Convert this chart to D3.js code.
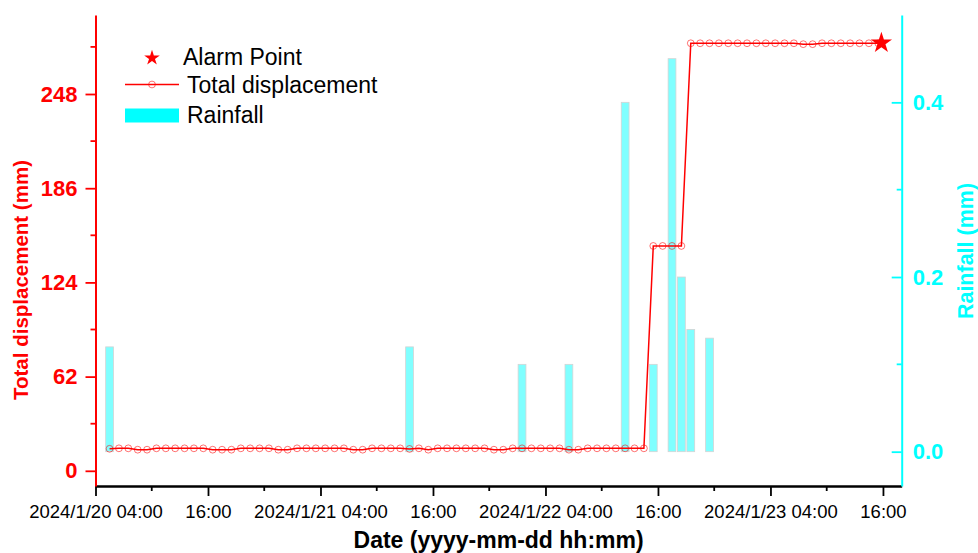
<!DOCTYPE html>
<html>
<head>
<meta charset="utf-8">
<script src="https://cdn.jsdelivr.net/npm/d3@7"></script>
<style>
  body { margin: 0; background: #fff; }
  svg { display: block; }
  text { font-family: "Liberation Sans", Arial, sans-serif; }
</style>
</head>
<body>
<svg id="chart" width="978" height="553"></svg>
<script>
// ---- data ----
// Hourly total displacement (mm), first reading at 2024-01-20 05:30
const firstReading = "2024-01-20 05:30";
const displacement = [
  14.5, 14.8, 14.8, 13.9, 13.9, 14.8, 14.8, 14.8, 14.8, 14.8,
  14.8, 13.9, 13.9, 13.9, 14.8, 14.8, 14.8, 14.8, 13.9, 13.9,
  14.8, 14.8, 14.8, 14.8, 14.8, 14.8, 13.9, 13.9, 14.8, 14.8,
  14.8, 14.8, 14.4, 14.8, 13.9, 14.8, 14.8, 14.8, 14.8, 14.8,
  14.8, 13.9, 13.9, 14.8, 14.8, 14.8, 14.8, 14.8, 14.8, 13.9,
  13.9, 14.8, 14.8, 14.8, 14.8, 14.8, 14.8, 14.8,
  148.0, 148.0, 148.0, 148.0,
  281.4, 281.4, 281.4, 281.4, 281.4, 281.4, 281.4, 281.4, 281.4, 281.4,
  281.4, 281.4, 280.8, 280.8, 281.4, 281.4, 281.4, 281.4, 281.4, 281.4,
  281.4
];

// Rainfall (mm)
const rainTimes = [
  "2024-01-20 05:30", "2024-01-21 13:30", "2024-01-22 01:30", "2024-01-22 06:30",
  "2024-01-22 12:30", "2024-01-22 15:30", "2024-01-22 17:30", "2024-01-22 18:30",
  "2024-01-22 19:30", "2024-01-22 21:30"
];
const rainfall = [0.12, 0.12, 0.1, 0.1, 0.4, 0.1, 0.45, 0.2, 0.14, 0.13];

// Alarm point
const alarmTime = "2024-01-23 15:50";
const alarmValue = 281.6;

// Axis ticks
const xRange = ["2024-01-20 04:00", "2024-01-23 18:00"];
const xTickTimes = [
  "2024-01-20 04:00", "2024-01-20 16:00", "2024-01-21 04:00", "2024-01-21 16:00",
  "2024-01-22 04:00", "2024-01-22 16:00", "2024-01-23 04:00", "2024-01-23 16:00"
];
const xTickLabels = [
  "2024/1/20 04:00", "16:00", "2024/1/21 04:00", "16:00",
  "2024/1/22 04:00", "16:00", "2024/1/23 04:00", "16:00"
];
const dispTicks = [0, 62, 124, 186, 248];
const dispMinorTicks = [31, 93, 155, 217, 279];
const rainTicks = [0.0, 0.2, 0.4];
const rainMinorTicks = [0.1, 0.3];

// ---- layout ----
const svg = d3.select("#chart");
const plot = { left: 95.5, right: 901.7, top: 15, bottom: 486 };
const RED = "#FF0000", CYAN = "#00FFFF";

const parse = d3.timeParse("%Y-%m-%d %H:%M");
const t0 = parse(firstReading);
const dispData = displacement.map((v, i) => ({ t: d3.timeHour.offset(t0, i), v }));
const rainData = rainfall.map((v, i) => ({ t: parse(rainTimes[i]), v }));

const x = d3.scaleTime().domain(xRange.map(parse)).range([plot.left, plot.right]);
const yDisp = d3.scaleLinear().domain([-10, 300]).range([plot.bottom, plot.top]);
const yRain = d3.scaleLinear().domain([-0.0393, 0.5]).range([plot.bottom, plot.top]);

// ---- rainfall bars ----
const halfBar = 25; // minutes either side of the reading
svg.append("g").selectAll("rect").data(rainData).join("rect")
  .attr("x", d => x(d3.timeMinute.offset(d.t, -halfBar)))
  .attr("width", d => x(d3.timeMinute.offset(d.t, halfBar)) - x(d3.timeMinute.offset(d.t, -halfBar)))
  .attr("y", d => yRain(d.v))
  .attr("height", d => yRain(0) - yRain(d.v))
  .attr("fill", "#80FFFF")
  .attr("stroke", "#D4D4D4")
  .attr("stroke-width", 0.8);

// ---- displacement line ----
const line = d3.line().x(d => x(d.t)).y(d => yDisp(d.v));
svg.append("path").datum(dispData)
  .attr("d", line)
  .attr("fill", "none")
  .attr("stroke", RED)
  .attr("stroke-width", 1.5);

svg.append("g").selectAll("circle").data(dispData).join("circle")
  .attr("cx", d => x(d.t))
  .attr("cy", d => yDisp(d.v))
  .attr("r", 3.4)
  .attr("fill", "none")
  .attr("stroke", "rgba(255,0,0,0.55)")
  .attr("stroke-width", 1);

// ---- alarm star ----
svg.append("path")
  .attr("d", d3.symbol(d3.symbolStar, 140)())
  .attr("transform", `translate(${x(parse(alarmTime))},${yDisp(alarmValue)})`)
  .attr("fill", RED);

// ---- axes ----
// bottom
const xAxis = d3.axisBottom(x)
  .tickValues(xTickTimes.map(parse))
  .tickFormat((d, i) => xTickLabels[i])
  .tickSizeInner(10).tickSizeOuter(0).tickPadding(9);
const gx = svg.append("g").attr("transform", `translate(0,${plot.bottom})`).call(xAxis);
gx.select(".domain").attr("stroke", "#000").attr("stroke-width", 2.6);
gx.selectAll(".tick line").attr("stroke", "#000").attr("stroke-width", 1.8);
gx.selectAll(".tick text").attr("fill", "#000").style("font-size", "18.5px");
const majorSet = new Set(xTickTimes);
const xMinor = d3.timeHour.range(parse(xRange[0]), parse(xRange[1]), 6)
  .filter(d => !majorSet.has(d3.timeFormat("%Y-%m-%d %H:%M")(d)));
gx.append("g").selectAll("line").data(xMinor).join("line")
  .attr("x1", d => x(d)).attr("x2", d => x(d))
  .attr("y1", 0).attr("y2", 5)
  .attr("stroke", "#000").attr("stroke-width", 1.8);

// left
const yAxisL = d3.axisLeft(yDisp).tickValues(dispTicks)
  .tickSizeInner(10).tickSizeOuter(0).tickPadding(8);
const gyl = svg.append("g").attr("transform", `translate(${plot.left},0)`).call(yAxisL);
gyl.select(".domain").attr("stroke", RED).attr("stroke-width", 2);
gyl.selectAll(".tick line").attr("stroke", RED).attr("stroke-width", 1.8);
gyl.selectAll(".tick text").attr("fill", RED)
  .style("font-size", "22px").style("font-weight", "bold");
gyl.append("g").selectAll("line").data(dispMinorTicks).join("line")
  .attr("x1", -5).attr("x2", 0)
  .attr("y1", d => yDisp(d)).attr("y2", d => yDisp(d))
  .attr("stroke", RED).attr("stroke-width", 1.8);

// right
const yAxisR = d3.axisRight(yRain).tickValues(rainTicks).tickFormat(d3.format(".1f"))
  .tickSizeInner(-10).tickSizeOuter(0).tickPadding(11);
const gyr = svg.append("g").attr("transform", `translate(${plot.right},0)`).call(yAxisR);
gyr.select(".domain").attr("stroke", CYAN).attr("stroke-width", 2);
gyr.selectAll(".tick line").attr("stroke", CYAN).attr("stroke-width", 1.8);
gyr.selectAll(".tick text").attr("fill", CYAN)
  .style("font-size", "22px").style("font-weight", "bold");
gyr.append("g").selectAll("line").data(rainMinorTicks).join("line")
  .attr("x1", -5).attr("x2", 0)
  .attr("y1", d => yRain(d)).attr("y2", d => yRain(d))
  .attr("stroke", CYAN).attr("stroke-width", 1.8);

// ---- axis titles ----
svg.append("text")
  .attr("transform", `translate(28,280) rotate(-90)`)
  .attr("text-anchor", "middle")
  .attr("fill", RED)
  .style("font-size", "20.5px").style("font-weight", "bold")
  .text("Total displacement (mm)");

svg.append("text")
  .attr("transform", `translate(973,251) rotate(-90)`)
  .attr("text-anchor", "middle")
  .attr("fill", CYAN)
  .style("font-size", "21.5px").style("font-weight", "bold")
  .text("Rainfall (mm)");

svg.append("text")
  .attr("x", (plot.left + plot.right) / 2)
  .attr("y", 548)
  .attr("text-anchor", "middle")
  .attr("fill", "#000")
  .style("font-size", "23px").style("font-weight", "bold")
  .text("Date (yyyy-mm-dd hh:mm)");

// ---- legend ----
const legend = svg.append("g");
legend.append("path")
  .attr("d", d3.symbol(d3.symbolStar, 75)())
  .attr("transform", "translate(152,58)")
  .attr("fill", RED);
legend.append("text").attr("x", 183).attr("y", 65)
  .style("font-size", "23px").attr("fill", "#000").text("Alarm Point");

legend.append("line").attr("x1", 125).attr("x2", 179).attr("y1", 84.5).attr("y2", 84.5)
  .attr("stroke", RED).attr("stroke-width", 1.5);
legend.append("circle").attr("cx", 152).attr("cy", 84.5).attr("r", 3.4)
  .attr("fill", "none").attr("stroke", "rgba(255,0,0,0.55)").attr("stroke-width", 1);
legend.append("text").attr("x", 187).attr("y", 92.5)
  .style("font-size", "23px").attr("fill", "#000").text("Total displacement");

legend.append("rect").attr("x", 125).attr("y", 108.5).attr("width", 54).attr("height", 14)
  .attr("fill", CYAN);
legend.append("text").attr("x", 187).attr("y", 123)
  .style("font-size", "23px").attr("fill", "#000").text("Rainfall");
</script>
</body>
</html>
